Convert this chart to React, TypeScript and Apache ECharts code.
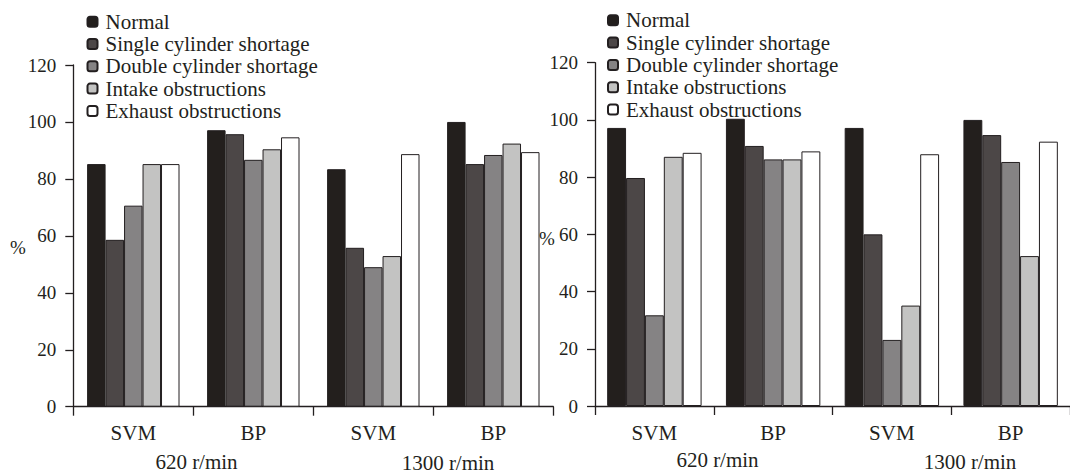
import React, { useEffect, useRef } from "react";
import * as echarts from "echarts";

const categories = ["SVM", "BP", "SVM", "BP"];
const seriesNames = [
  "Normal",
  "Single cylinder shortage",
  "Double cylinder shortage",
  "Intake obstructions",
  "Exhaust obstructions",
];
const barColors = ["#231f1d", "#4c4747", "#858384", "#c3c3c2", "#ffffff"];

// Left panel (values in %)
const leftNormal = [85.2, 97.1, 83.4, 100.0];
const leftSingle = [58.6, 95.7, 55.8, 85.2];
const leftDouble = [70.6, 86.7, 49.0, 88.4];
const leftIntake = [85.2, 90.4, 52.9, 92.4];
const leftExhaust = [85.2, 94.6, 88.7, 89.4];

// Right panel (values in %)
const rightNormal = [97.2, 100.4, 97.2, 100.0];
const rightSingle = [79.7, 90.9, 60.0, 94.7];
const rightDouble = [31.7, 86.2, 23.1, 85.3];
const rightIntake = [87.1, 86.2, 35.1, 52.4];
const rightExhaust = [88.5, 89.0, 88.0, 92.4];

const yTicks = { min: 0, max: 120, interval: 20 };
const speedLabels = ["620 r/min", "1300 r/min"];
const unitLabel = "%";

const FONT = "'Liberation Serif', 'Times New Roman', serif";
const INK = "#231f20";

export default function App() {
  const ref = useRef<HTMLDivElement>(null);

  useEffect(() => {
    if (!ref.current) return;
    const chart = echarts.init(ref.current, undefined, { renderer: "svg" });

    const leftData = [leftNormal, leftSingle, leftDouble, leftIntake, leftExhaust];
    const rightData = [rightNormal, rightSingle, rightDouble, rightIntake, rightExhaust];

    const mkSeries = (data: number[][], idx: number, gap: string) =>
      seriesNames.map((n, i) => ({
        type: "bar",
        name: n,
        xAxisIndex: idx,
        yAxisIndex: idx,
        data: data[i],
        barGap: "0%",
        barCategoryGap: gap,
        itemStyle: { color: barColors[i], borderColor: INK, borderWidth: 1 },
        emphasis: { disabled: true },
      }));

    const mkX = (idx: number) => ({
      type: "category",
      gridIndex: idx,
      data: categories,
      axisLine: { show: true, lineStyle: { color: INK, width: 1.3 } },
      axisTick: { show: true, length: 9, lineStyle: { color: INK, width: 1.3 } },
      axisLabel: { fontSize: 21, margin: 16, color: INK, fontFamily: FONT },
    });
    const mkY = (idx: number) => ({
      type: "value",
      gridIndex: idx,
      min: yTicks.min,
      max: yTicks.max,
      interval: yTicks.interval,
      splitLine: { show: false },
      axisLine: { show: true, lineStyle: { color: INK, width: 1.3 } },
      axisTick: { show: true, length: 8, lineStyle: { color: INK, width: 1.3 } },
      axisLabel: { fontSize: 19, margin: 17, color: INK, fontFamily: FONT },
    });

    const mkLegend = (left: number, top: number) => ({
      orient: "vertical",
      left,
      top,
      padding: 0,
      itemWidth: 10,
      itemHeight: 10,
      itemGap: 0.3,
      selectedMode: false,
      data: seriesNames,
      textStyle: {
        fontFamily: FONT,
        fontSize: 21,
        lineHeight: 22,
        color: INK,
        padding: [0, 0, 0, 3],
      },
    });

    const txt = (text: string, x: number, y: number, size: number) => ({
      type: "text",
      x,
      y,
      style: {
        text,
        fontFamily: FONT,
        fontSize: size,
        fill: INK,
        textAlign: "center",
        textVerticalAlign: "middle",
      },
    });

    chart.setOption({
      animation: false,
      backgroundColor: "#ffffff",
      textStyle: { fontFamily: FONT },
      grid: [
        { left: 73.3, top: 65, width: 480, height: 341.7 },
        { left: 595, top: 62.7, width: 478, height: 343.3 },
      ],
      xAxis: [mkX(0), mkX(1)],
      yAxis: [mkY(0), mkY(1)],
      legend: [mkLegend(86.5, 10.7), mkLegend(607, 9.3)],
      series: [...mkSeries(leftData, 0, "23%"), ...mkSeries(rightData, 1, "20.5%")],
      graphic: [
        txt(unitLabel, 18, 247, 19),
        txt(unitLabel, 547, 238, 19),
        txt(speedLabels[0], 196.5, 462, 21),
        txt(speedLabels[1], 448, 463, 21),
        txt(speedLabels[0], 717.5, 460, 21),
        txt(speedLabels[1], 970, 462, 21),
      ],
    });

    return () => chart.dispose();
  }, []);

  return (
    <div
      ref={ref}
      style={{ position: "absolute", left: 0, top: 0, width: 1070, height: 474 }}
    />
  );
}
